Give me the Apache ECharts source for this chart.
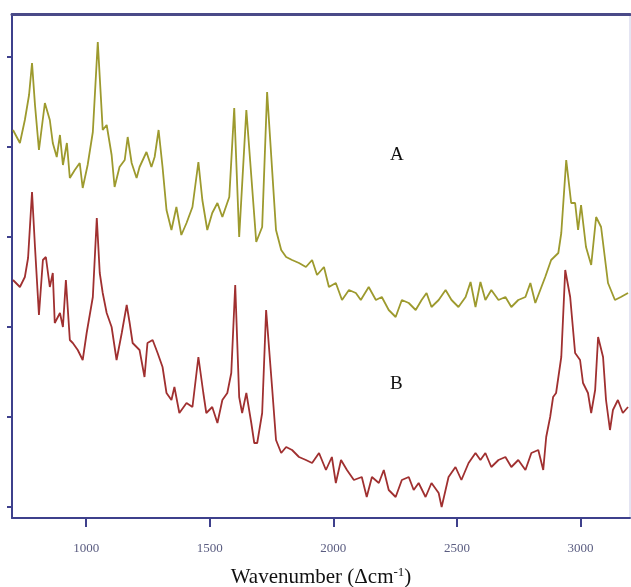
<!DOCTYPE html>
<html>
<head>
<meta charset="utf-8">
<title>Raman spectra</title>
<script src="https://cdn.jsdelivr.net/npm/echarts@6/dist/echarts.min.js"></script>
<style>
  html, body { margin: 0; padding: 0; background: #fff; }
  #chart { width: 631px; height: 587px; }
</style>
</head>
<body>
<div id="chart"></div>
<script>
// spectrum A (upper, olive)
var wnA = [704, 732, 752, 769, 781, 793, 809, 833, 853, 865, 881, 894, 906, 922, 934, 954, 974, 986, 1006, 1027,
  1047, 1067, 1083, 1103, 1115, 1135, 1156, 1168, 1184, 1204, 1216, 1244, 1264, 1277, 1293, 1309, 1325, 1345, 1365, 1385,
  1406, 1430, 1454, 1470, 1490, 1510, 1531, 1551, 1579, 1599, 1619, 1648, 1688, 1712, 1732, 1768, 1789, 1809, 1833, 1861,
  1889, 1914, 1934, 1962, 1982, 2010, 2035, 2063, 2091, 2111, 2143, 2172, 2196, 2224, 2252, 2277, 2305, 2333, 2357, 2377,
  2397, 2426, 2454, 2478, 2506, 2535, 2555, 2575, 2595, 2615, 2639, 2668, 2696, 2720, 2748, 2777, 2797, 2817, 2837, 2857,
  2881, 2910, 2922, 2942, 2962, 2978, 2990, 3002, 3022, 3043, 3063, 3083, 3111, 3139, 3163, 3192];
var intA = [388, 375, 398, 423, 455, 413, 368, 415, 398, 375, 361, 383, 353, 375, 340, 348, 355, 330, 353, 386,
  476, 388, 393, 363, 331, 351, 358, 381, 355, 340, 351, 366, 351, 361, 388, 351, 308, 288, 311, 283,
  295, 311, 356, 318, 288, 305, 315, 301, 321, 410, 281, 408, 276, 291, 426, 288, 268, 261, 258, 255,
  251, 258, 243, 251, 231, 235, 218, 228, 225, 218, 231, 218, 221, 208, 201, 218, 215, 208, 218, 225,
  211, 218, 228, 218, 211, 221, 236, 211, 236, 218, 228, 218, 221, 211, 218, 221, 235, 215, 228, 241,
  258, 265, 285, 358, 315, 315, 288, 313, 271, 253, 301, 291, 235, 218, 221, 225];

// spectrum B (lower, red)
var wnB = [704, 732, 752, 765, 781, 793, 809, 825, 837, 853, 865, 873, 894, 906, 918, 934, 946, 966, 986, 1002,
  1027, 1043, 1055, 1067, 1083, 1103, 1123, 1144, 1164, 1176, 1188, 1216, 1236, 1248, 1269, 1289, 1309, 1325, 1345, 1357,
  1377, 1406, 1430, 1454, 1474, 1486, 1510, 1531, 1551, 1571, 1587, 1603, 1619, 1631, 1648, 1668, 1680, 1692, 1712, 1728,
  1752, 1768, 1789, 1809, 1833, 1861, 1889, 1914, 1942, 1970, 1994, 2010, 2031, 2055, 2083, 2115, 2135, 2156, 2184, 2204,
  2224, 2252, 2277, 2305, 2325, 2345, 2373, 2397, 2426, 2438, 2466, 2494, 2518, 2547, 2575, 2595, 2615, 2639, 2668, 2696,
  2720, 2748, 2777, 2801, 2829, 2849, 2861, 2877, 2889, 2901, 2922, 2938, 2958, 2978, 2998, 3010, 3030, 3043, 3059, 3071,
  3091, 3103, 3119, 3131, 3151, 3171, 3192];
var intB = [238, 231, 241, 260, 326, 271, 203, 258, 261, 231, 245, 195, 205, 191, 238, 178, 175, 168, 158, 185,
  221, 300, 245, 225, 205, 191, 158, 185, 213, 195, 175, 168, 141, 175, 178, 165, 151, 125, 118, 131,
  105, 115, 111, 161, 125, 105, 111, 95, 118, 125, 145, 233, 121, 105, 125, 95, 75, 75, 105, 208,
  131, 78, 65, 71, 68, 61, 58, 55, 65, 48, 61, 35, 58, 48, 38, 41, 21, 41, 35, 48,
  28, 21, 38, 41, 28, 35, 21, 35, 25, 11, 41, 51, 38, 55, 65, 58, 65, 51, 58, 61,
  51, 58, 48, 65, 68, 48, 81, 101, 121, 125, 161, 248, 221, 165, 158, 135, 125, 105, 128, 181,
  161, 118, 88, 108, 118, 105, 111];

var xTicks = [1000, 1500, 2000, 2500, 3000];
var yTicks = [11, 101, 191, 281, 371, 461];

function pairs(xs, ys) {
  var out = [];
  for (var i = 0; i < xs.length; i++) out.push([xs[i], ys[i]]);
  return out;
}

var chart = echarts.init(document.getElementById('chart'));
var frame = '#3e408c';
var option = {
  animation: false,
  grid: {
    left: 12, right: 1, top: 14, bottom: 69, show: true, borderColor: '#c9cbe6', borderWidth: 1,
    containLabel: false, outerBoundsMode: 'none'
  },
  xAxis: [{
    type: 'value', min: 700, max: 3200, position: 'bottom',
    splitLine: { show: false },
    axisLine: { lineStyle: { color: frame, width: 2 } },
    axisTick: { show: true, inside: false, length: 9, customValues: xTicks, lineStyle: { color: frame, width: 2 } },
    axisLabel: {
      customValues: xTicks, margin: 24, fontFamily: 'Liberation Serif', fontSize: 13, color: '#5a5c80',
      formatter: function (v) { return String(v); }
    },
    name: 'Wavenumber (Δcm{sup|-1})', nameLocation: 'middle', nameGap: 48,
    nameTextStyle: {
      fontFamily: 'Liberation Serif', fontSize: 21, color: '#111',
      rich: { sup: { fontFamily: 'Liberation Serif', fontSize: 13, color: '#111', verticalAlign: 'top', padding: [0, 0, 10, 0] } }
    }
  }, {
    type: 'value', min: 700, max: 3200, position: 'top',
    splitLine: { show: false },
    axisLine: { show: true, lineStyle: { color: '#4a4a88', width: 3 } },
    axisTick: { show: false }, axisLabel: { show: false }
  }],
  yAxis: {
    type: 'value', min: 0, max: 504,
    splitLine: { show: false },
    axisLine: { show: true, lineStyle: { color: frame, width: 2 } },
    axisTick: { show: true, inside: false, length: 5, customValues: yTicks, lineStyle: { color: frame, width: 2 } },
    axisLabel: { show: false }
  },
  series: [{
    name: 'A', type: 'line', data: pairs(wnA, intA), showSymbol: false,
    lineStyle: { color: '#9d9a2e', width: 1.8 }
  }, {
    name: 'B', type: 'line', data: pairs(wnB, intB), showSymbol: false,
    lineStyle: { color: '#a03030', width: 1.8 }
  }],
  graphic: [
    { type: 'text', left: 390, top: 146, style: { text: 'A', font: '19px "Liberation Serif"', fill: '#111' } },
    { type: 'text', left: 390, top: 375, style: { text: 'B', font: '19px "Liberation Serif"', fill: '#111' } }
  ]
};
chart.setOption(option);
</script>
</body>
</html>
